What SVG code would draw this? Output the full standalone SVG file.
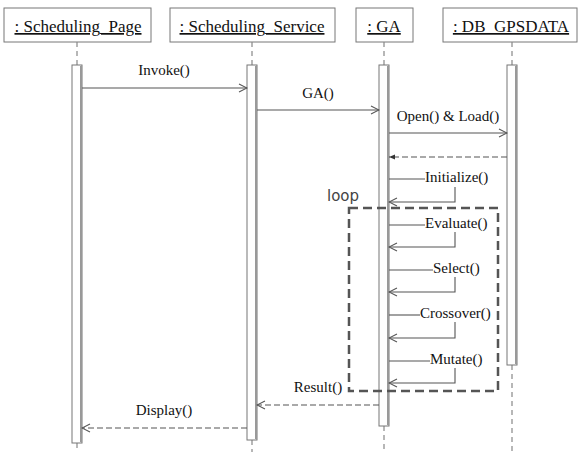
<svg xmlns="http://www.w3.org/2000/svg" width="579" height="452" viewBox="0 0 579 452">
<style>
.box{fill:#fff;stroke:#777;stroke-width:1}
.hdr{font-family:"Liberation Serif",serif;font-size:17px;fill:#111;text-anchor:middle;text-decoration:underline}
.life{stroke:#888;stroke-width:1.2;stroke-dasharray:5,4;fill:none}
.bar{fill:#fff;stroke:#777;stroke-width:1}
.barr{stroke:#999;stroke-width:2;fill:none}
.msg{stroke:#555;stroke-width:1.1;fill:none}
.ret{stroke:#555;stroke-width:1.1;fill:none;stroke-dasharray:6,3}
.lbl{font-family:"Liberation Serif",serif;font-size:15px;fill:#111}
.frame{fill:none;stroke:#555;stroke-width:2.5;stroke-dasharray:9,5}
</style>
<defs>
<marker id="open" markerWidth="10" markerHeight="10" refX="9" refY="5" orient="auto" markerUnits="userSpaceOnUse">
<path d="M1,1 L9,5 L1,9" fill="none" stroke="#555" stroke-width="1.1"/>
</marker>
<marker id="fill" markerWidth="8" markerHeight="8" refX="7" refY="4" orient="auto" markerUnits="userSpaceOnUse">
<path d="M1,1.5 L7,4 L1,6.5 Z" fill="#333"/>
</marker>
</defs>
<rect width="579" height="452" fill="#fff"/>

<g id="scheduling_page">
<rect class="box" x="4" y="8" width="147" height="34"/>
<text class="hdr" x="78" y="32">: Scheduling_Page</text>
<line class="life" x1="77" y1="42" x2="77" y2="65"/>
<line class="life" x1="77" y1="443" x2="77" y2="452"/>
<rect class="bar" x="72" y="65" width="10" height="378"/>
<line class="barr" x1="81" y1="66" x2="81" y2="442"/>
</g>

<g id="scheduling_service">
<rect class="box" x="170" y="8" width="165" height="34"/>
<text class="hdr" x="252" y="32">: Scheduling_Service</text>
<line class="life" x1="252" y1="42" x2="252" y2="65"/>
<line class="life" x1="252" y1="440" x2="252" y2="452"/>
<rect class="bar" x="247" y="65" width="10" height="375"/>
<line class="barr" x1="256" y1="66" x2="256" y2="439"/>
</g>

<g id="ga">
<rect class="box" x="356" y="8" width="57" height="34"/>
<text class="hdr" x="384" y="32">: GA</text>
<line class="life" x1="384" y1="42" x2="384" y2="65"/>
<line class="life" x1="384" y1="426" x2="384" y2="452"/>
<rect class="bar" x="379" y="65" width="10" height="361"/>
<line class="barr" x1="388" y1="66" x2="388" y2="425"/>
</g>

<g id="db_gpsdata">
<rect class="box" x="443" y="8" width="134" height="34"/>
<text class="hdr" x="511" y="32">: DB_GPSDATA</text>
<line class="life" x1="512" y1="42" x2="512" y2="65"/>
<line class="life" x1="512" y1="365" x2="512" y2="452"/>
<rect class="bar" x="507" y="65" width="10" height="300"/>
<line class="barr" x1="516" y1="66" x2="516" y2="364"/>
</g>

<g id="loop_frame">
<rect class="frame" x="349" y="208" width="149" height="183"/>
<text x="327" y="201" font-family="DejaVu Sans,sans-serif" font-size="15" fill="#444">loop</text>
</g>

<g id="connectors">
<line class="msg" x1="82" y1="88" x2="247" y2="88" marker-end="url(#open)"/>
<text class="lbl" x="164" y="75" text-anchor="middle">Invoke()</text>

<line class="msg" x1="257" y1="110" x2="379" y2="110" marker-end="url(#open)"/>
<text class="lbl" x="318" y="98" text-anchor="middle">GA()</text>

<line class="msg" x1="389" y1="133" x2="507" y2="133" marker-end="url(#open)"/>
<text class="lbl" x="448" y="121" text-anchor="middle">Open() &amp; Load()</text>

<line class="ret" x1="507" y1="157" x2="389" y2="157" marker-end="url(#fill)"/>

<polyline class="msg" points="389,179 425,179"/>
<text class="lbl" x="425" y="182">Initialize()</text>
<polyline class="msg" points="455,187 455,202 389,202" marker-end="url(#open)"/>

<polyline class="msg" points="389,225 425,225"/>
<text class="lbl" x="425" y="228">Evaluate()</text>
<polyline class="msg" points="455,232 455,247 389,247" marker-end="url(#open)"/>

<polyline class="msg" points="389,270 433,270"/>
<text class="lbl" x="433" y="273">Select()</text>
<polyline class="msg" points="455,277 455,292 389,292" marker-end="url(#open)"/>

<polyline class="msg" points="389,315 420,315"/>
<text class="lbl" x="420" y="318">Crossover()</text>
<polyline class="msg" points="455,322 455,338 389,338" marker-end="url(#open)"/>

<polyline class="msg" points="389,361 430,361"/>
<text class="lbl" x="430" y="364">Mutate()</text>
<polyline class="msg" points="455,368 455,383 389,383" marker-end="url(#open)"/>

<line class="ret" x1="379" y1="405" x2="257" y2="405" marker-end="url(#open)"/>
<text class="lbl" x="318" y="392" text-anchor="middle">Result()</text>

<line class="ret" x1="247" y1="428" x2="82" y2="428" marker-end="url(#open)"/>
<text class="lbl" x="164" y="415" text-anchor="middle">Display()</text>
</g>
</svg>
